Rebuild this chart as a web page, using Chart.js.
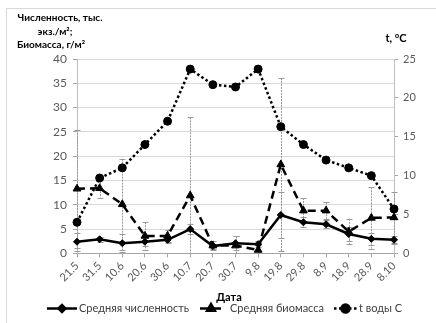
<!DOCTYPE html>
<html>
<head>
<meta charset="utf-8">
<script src="https://cdn.jsdelivr.net/npm/chart.js@4/dist/chart.umd.min.js"></script>
<style>
  html, body { margin: 0; padding: 0; background: #fff; }
  #wrap { width: 436px; height: 323px; position: relative; }
</style>
</head>
<body>
<div id="wrap"><canvas id="c" width="436" height="323"></canvas></div>
<script>
// Sampling dates (day.month)
const dates = ['21.5','31.5','10.6','20.6','30.6','10.7','20.7','30.7','9.8','19.8','29.8','8.9','18.9','28.9','8.10'];
// Mean density, thousand ind./m2, and its spread
const density    = [2.4, 2.9, 2.1, 2.4, 2.8, 5.0, 1.5, 2.1, 1.9, 7.9, 6.4, 6.0, 4.0, 3.0, 2.8];
const densityErr = [1.9, 0.5, 1.9, 0.8, 0.6, 1.0, 0.5, 1.4, 0.6, 4.8, 1.0, 0.8, 1.5, 1.3, 0.8];
// Mean biomass, g/m2, and its spread
const biomass    = [13.3, 13.4, 10.1, 3.6, 3.6, 11.9, 1.6, 1.6, 0.7, 18.3, 8.8, 8.8, 4.5, 7.3, 7.4];
const biomassErr = [12.1, 1.9, 9.4, 2.8, 1.3, 16.1, 1.0, 1.9, 1.0, 17.8, 2.6, 1.7, 2.6, 6.3, 5.3];
// Water temperature, °C
const waterTemp  = [4.0, 9.7, 11.0, 14.0, 17.0, 23.7, 21.7, 21.4, 23.7, 16.3, 14.0, 12.0, 11.0, 10.0, 5.7];
// Axis ticks
const leftTicks  = [0, 5, 10, 15, 20, 25, 30, 35, 40];
const rightTicks = [0, 5, 10, 15, 20, 25];

const FONT = 'Lato, "Liberation Sans", sans-serif';
const TICK_COLOR = '#595959';
const AXIS_COLOR = '#a6a6a6';

// Vertical error bars with caps, drawn from the dataset values through the scales
const errorBars = {
  id: 'errorBars',
  beforeDatasetsDraw(chart) {
    const { ctx, chartArea: a } = chart;
    const xs = chart.scales.x;
    ctx.save();
    ctx.beginPath();
    ctx.rect(a.left - 4, a.top, a.right - a.left + 8, a.bottom - a.top + 1);
    ctx.clip();
    chart.data.datasets.forEach(ds => {
      if (!ds.err) return;
      const ys = chart.scales[ds.yAxisID];
      ds.data.forEach((v, i) => {
        const e = ds.err[i];
        const x = Math.round(xs.getPixelForValue(i)) + 0.5;
        const yT = ys.getPixelForValue(v + e);
        const yB = ys.getPixelForValue(v - e);
        ctx.strokeStyle = '#9a9a9a';
        ctx.lineWidth = 1;
        ctx.setLineDash([2, 1]);
        ctx.beginPath();
        ctx.moveTo(x, yT); ctx.lineTo(x, yB);
        ctx.stroke();
        ctx.setLineDash([]);
        ctx.beginPath();
        ctx.moveTo(x - 3, Math.round(yT) + 0.5); ctx.lineTo(x + 3, Math.round(yT) + 0.5);
        ctx.moveTo(x - 3, Math.round(yB) + 0.5); ctx.lineTo(x + 3, Math.round(yB) + 0.5);
        ctx.stroke();
      });
    });
    ctx.restore();
  }
};

// Frame, axis titles and legend
const decorations = {
  id: 'decorations',
  beforeDraw(chart) {
    const { ctx } = chart;
    ctx.save();
    ctx.fillStyle = '#fff';
    ctx.fillRect(0, 0, chart.width, chart.height);
    ctx.strokeStyle = '#d9d9d9';
    ctx.lineWidth = 1;
    ctx.beginPath();
    ctx.moveTo(6.5, 323); ctx.lineTo(6.5, 8.5); ctx.lineTo(436, 8.5);
    ctx.stroke();
    ctx.restore();
  },
  afterDraw(chart) {
    const { ctx } = chart;
    ctx.save();
    ctx.fillStyle = '#000';
    ctx.textAlign = 'center';
    ctx.textBaseline = 'middle';
    ctx.font = 'bold 10px ' + FONT;
    ctx.fillText('Численность, тыс.', 60, 18);
    ctx.fillText('экз./м²;', 55, 32);
    ctx.fillText('Биомасса, г/м²', 51, 45);
    ctx.font = 'bold 11px ' + FONT;
    ctx.fillText('t, °C', 396, 38);
    ctx.fillText('Дата', 229, 297);

    // legend
    const y = 308.5;
    const ds = chart.data.datasets;
    const items = [
      { d: ds[0], x0: 47, x1: 77, tx: 79 },
      { d: ds[1], x0: 200, x1: 222, tx: 230 },
      { d: ds[2], x0: 334, x1: 357, tx: 359 }
    ];
    items.forEach(it => {
      const d = it.d;
      ctx.strokeStyle = '#000';
      ctx.lineWidth = d.borderWidth;
      ctx.setLineDash(d.borderDash || []);
      ctx.beginPath();
      ctx.moveTo(it.x0, y); ctx.lineTo(it.x1, y);
      ctx.stroke();
      ctx.setLineDash([]);
      ctx.fillStyle = '#000';
      Chart.helpers.drawPoint(ctx, {
        pointStyle: d.pointStyle, radius: d.pointRadius, borderWidth: 1, rotation: 0
      }, (it.x0 + it.x1) / 2, y);
      ctx.fillStyle = '#404040';
      ctx.font = '11px ' + FONT;
      ctx.textAlign = 'left';
      ctx.fillText(d.label, it.tx, y);
    });
    ctx.restore();
  }
};

new Chart(document.getElementById('c'), {
  type: 'line',
  data: {
    labels: dates,
    datasets: [
      {
        label: 'Средняя численность',
        data: density, err: densityErr, yAxisID: 'y',
        borderColor: '#000', backgroundColor: '#000', borderWidth: 2.5,
        pointStyle: 'rectRot', pointRadius: 3.5, pointBorderWidth: 1,
        tension: 0, order: 1
      },
      {
        label: 'Средняя биомасса',
        data: biomass, err: biomassErr, yAxisID: 'y',
        borderColor: '#000', backgroundColor: '#000', borderWidth: 2.5,
        borderDash: [8, 5],
        pointStyle: 'triangle', pointRadius: 4.5, pointBorderWidth: 1,
        tension: 0, order: 2
      },
      {
        label: 't воды С',
        data: waterTemp, yAxisID: 'y1',
        borderColor: '#000', backgroundColor: '#000', borderWidth: 2.5,
        borderDash: [2.5, 2.5],
        pointStyle: 'circle', pointRadius: 4, pointBorderWidth: 1,
        tension: 0, order: 3
      }
    ]
  },
  options: {
    responsive: false,
    animation: false,
    layout: { padding: { top: 59, bottom: 24, left: 0, right: 0 } },
    plugins: { legend: { display: false }, tooltip: { enabled: false } },
    scales: {
      x: {
        offset: false,
        grid: { drawOnChartArea: false, drawTicks: true, tickLength: 4, tickColor: AXIS_COLOR },
        border: { color: AXIS_COLOR },
        ticks: { color: TICK_COLOR, font: { family: FONT, size: 11 }, minRotation: 45, maxRotation: 45, padding: 2, autoSkip: false },
        afterFit(s) { s.height = 45.6; }
      },
      y: {
        position: 'left', min: 0, max: 40,
        afterBuildTicks(s) { s.ticks = leftTicks.map(v => ({ value: v })); },
        grid: { color: '#d9d9d9', tickLength: 4, tickColor: AXIS_COLOR },
        border: { color: '#bfbfbf' },
        ticks: { color: TICK_COLOR, font: { family: FONT, size: 12 }, padding: 6 },
        afterFit(s) { s.width = 77; }
      },
      y1: {
        position: 'right', min: 0, max: 25,
        afterBuildTicks(s) { s.ticks = rightTicks.map(v => ({ value: v })); },
        grid: { drawOnChartArea: false, tickLength: 4, tickColor: AXIS_COLOR },
        border: { color: '#bfbfbf' },
        ticks: { color: TICK_COLOR, font: { family: FONT, size: 11 }, padding: 5 },
        afterFit(s) { s.width = 42; }
      }
    }
  },
  plugins: [decorations, errorBars]
});
</script>
</body>
</html>
